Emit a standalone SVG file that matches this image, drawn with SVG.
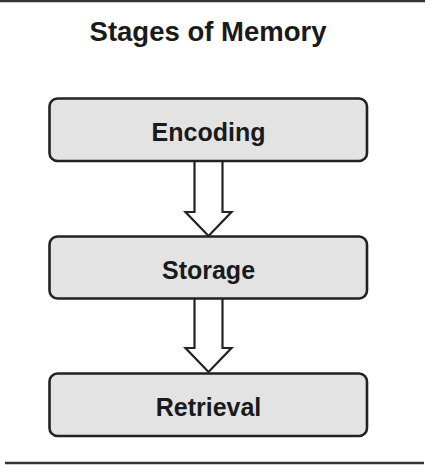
<svg xmlns="http://www.w3.org/2000/svg" width="436" height="476" viewBox="0 0 436 476">
<style>
.box{fill:#e3e3e3;stroke:#222;stroke-width:2.6}
.lbl{font-family:"Liberation Sans",Arial,sans-serif;font-weight:bold;font-size:25px;fill:#1a1a1a;text-anchor:middle}
.arr{fill:#fff;stroke:#222;stroke-width:2.2;stroke-linejoin:miter}
.rule{stroke:#333;stroke-width:2.4}
</style>
<rect width="436" height="476" fill="#fff"/>
<line class="rule" x1="0" y1="1" x2="425" y2="1"/>
<line class="rule" x1="5" y1="463" x2="424" y2="463"/>
<text x="208" y="41" class="lbl" style="font-size:27.5px">Stages of Memory</text>
<g id="connectors">
<path class="arr" d="M194.5,162 V212 H185.5 L208.5,236 L231.5,212 H222.5 V162"/>
<path class="arr" d="M194.5,299 V348 H185.5 L208.5,372 L231.5,348 H222.5 V299"/>
</g>
<g id="encoding">
<rect class="box" x="49.5" y="98.5" width="317.5" height="62.5" rx="8"/>
<text x="208.5" y="141" class="lbl">Encoding</text>
</g>
<g id="storage">
<rect class="box" x="49.5" y="236.5" width="317.5" height="62" rx="8"/>
<text x="208.5" y="278.5" class="lbl">Storage</text>
</g>
<g id="retrieval">
<rect class="box" x="49.5" y="373.5" width="317.5" height="62.5" rx="8"/>
<text x="208.5" y="415.5" class="lbl">Retrieval</text>
</g>
</svg>
